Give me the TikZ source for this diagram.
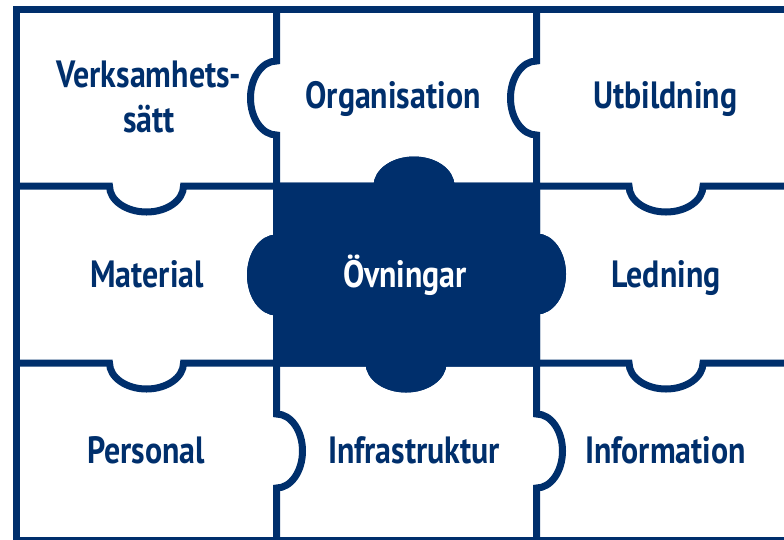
\documentclass[tikz,border=0pt]{standalone}
\usepackage{fontspec}
\setmainfont{PT Sans}[FakeStretch=0.84]
\usetikzlibrary{calc}
\definecolor{navy}{RGB}{0,47,108}

\begin{document}
\begin{tikzpicture}[x=1pt, y=-1pt,
  font=\fontsize{38}{45}\selectfont\bfseries,
  edge/.style={draw=navy, line width=7pt},
  lbl/.style={text=navy, inner sep=0pt, anchor=base}]
\useasboundingbox (0,0) rectangle (784,539);
\clip (0,0) rectangle (784,539);

% middle piece
\path[edge, fill=navy] (276.5,186) -- (377,186)
  arc[start angle=180, end angle=360, x radius=37, y radius=26]
  -- (536.5,186) -- (536.5,237)
  arc[start angle=-90, end angle=90, x radius=26, y radius=37]
  -- (536.5,363) -- (443,363)
  arc[start angle=0, end angle=180, x radius=37, y radius=26]
  -- (276.5,363) -- (276.5,312)
  arc[start angle=90, end angle=270, x radius=26, y radius=37]
  -- cycle;

% frame
\draw[edge] (800,9.5) -- (16.5,9.5) -- (16.5,540) -- (800,540);

% rows
\draw[edge] (16.5,186) -- (109.5,186)
  arc[start angle=180, end angle=0, x radius=37, y radius=26]
  -- (377,186)
  arc[start angle=180, end angle=360, x radius=37, y radius=26]
  -- (629,186)
  arc[start angle=180, end angle=0, x radius=37, y radius=26]
  -- (800,186);
\draw[edge] (16.5,363) -- (109.5,363)
  arc[start angle=180, end angle=0, x radius=37, y radius=26]
  -- (369,363)
  arc[start angle=180, end angle=0, x radius=37, y radius=26]
  -- (629,363)
  arc[start angle=180, end angle=0, x radius=37, y radius=26]
  -- (800,363);

% columns
\draw[edge] (276.5,9.5) -- (276.5,61)
  arc[start angle=270, end angle=90, x radius=26, y radius=37]
  -- (276.5,238)
  arc[start angle=270, end angle=90, x radius=26, y radius=37]
  -- (276.5,414)
  arc[start angle=-90, end angle=90, x radius=26, y radius=37]
  -- (276.5,540);
\draw[edge] (536.5,9.5) -- (536.5,61)
  arc[start angle=270, end angle=90, x radius=26, y radius=37]
  -- (536.5,237)
  arc[start angle=-90, end angle=90, x radius=26, y radius=37]
  -- (536.5,414)
  arc[start angle=-90, end angle=90, x radius=26, y radius=37]
  -- (536.5,540);

\node[lbl, anchor=center, align=center] (verk) at (149,97) {Verksamhets-\\sätt};
\node[lbl] (org) at (393,108) {Organisation};
\node[lbl] (utb) at (665.5,108) {Utbildning};
\node[lbl] (mat) at (147,287) {Material};
\node[lbl, text=white] (ovn) at (405,287) {Övningar};
\node[lbl] (led) at (666,287) {Ledning};
\node[lbl] (pers) at (146,463) {Personal};
\node[lbl] (infra) at (414,463) {Infrastruktur};
\node[lbl] (info) at (665.5,463) {Information};

\end{tikzpicture}
\end{document}
